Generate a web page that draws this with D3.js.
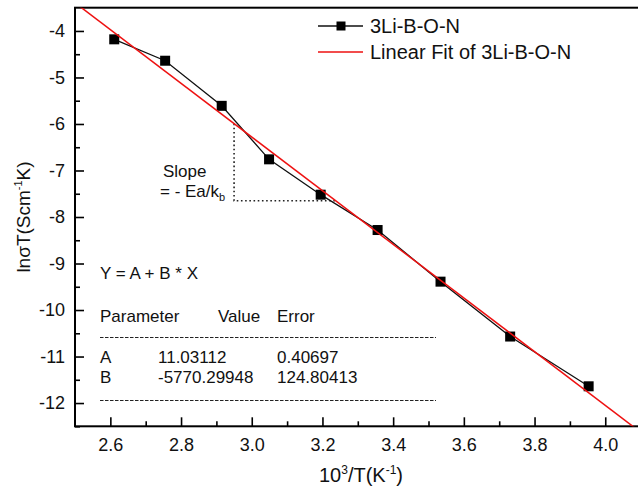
<!DOCTYPE html>
<html>
<head>
<meta charset="utf-8">
<script src="https://cdn.jsdelivr.net/npm/d3@7"></script>
<style>
  html, body { margin: 0; padding: 0; background: #fff; }
  svg { display: block; }
  text { font-family: Arial, "Liberation Sans", Helvetica, sans-serif; fill: #111; }
</style>
</head>
<body>
<svg id="chart" width="638" height="492"></svg>
<script>
// Arrhenius data: 10^3/T (K^-1) against ln(sigma*T)
const invT = [2.611, 2.755, 2.915, 3.049, 3.195, 3.356, 3.534, 3.731, 3.953];
const lnSigmaT = [-4.18, -4.64, -5.61, -6.76, -7.52, -8.28, -9.39, -10.57, -11.64];

// Linear fit  Y = A + B * X  (X = 1/T)
const fitA = 11.03112;
const fitB = -5770.29948;
const fitErrA = 0.40697;
const fitErrB = 124.80413;

// Axis ticks
const xTicks = [2.6, 2.8, 3.0, 3.2, 3.4, 3.6, 3.8, 4.0];
const xMinorTicks = [2.7, 2.9, 3.1, 3.3, 3.5, 3.7, 3.9];
const yTicks = [-12, -11, -10, -9, -8, -7, -6, -5, -4];
const yMinorTicks = [-12.5, -11.5, -10.5, -9.5, -8.5, -7.5, -6.5, -5.5, -4.5];

// Slope construction: vertical drop from the fit line, then across to it again
const slopeStartX = 2.95;
const slopeFloorY = -7.65;

const seriesName = "3Li-B-O-N";

const svg = d3.select("#chart");
const pLeft = 75, pRight = 640.6, pTop = 7.7, pBottom = 426.3;

const x = d3.scaleLinear().domain([2.5, 4.1]).range([pLeft, pRight]);
const y = d3.scaleLinear().domain([-12.5, -3.5]).range([pBottom, pTop]);

const fit = v => fitA + fitB * v / 1000;
const fitInv = yy => (yy - fitA) * 1000 / fitB;

svg.append("defs").append("clipPath").attr("id", "plotClip")
  .append("rect")
  .attr("x", pLeft).attr("y", pTop)
  .attr("width", pRight - pLeft).attr("height", pBottom - pTop);

// Frame
svg.append("rect")
  .attr("x", pLeft).attr("y", pTop)
  .attr("width", pRight - pLeft).attr("height", pBottom - pTop)
  .attr("fill", "none").attr("stroke", "#000").attr("stroke-width", 2);

// Axes (ticks point inward)
function styleAxis(g) {
  g.select(".domain").remove();
  g.selectAll(".tick line").attr("stroke", "#000").attr("stroke-width", 1.6);
  g.selectAll(".tick text").attr("font-size", 18).attr("fill", "#111")
    .attr("font-family", "Arial, 'Liberation Sans', sans-serif");
}

svg.append("g").attr("transform", `translate(0,${pBottom})`)
  .call(d3.axisBottom(x).tickValues(xTicks).tickFormat(d => d.toFixed(1))
    .tickSizeInner(-9).tickSizeOuter(0).tickPadding(12))
  .call(styleAxis);
svg.append("g").attr("transform", `translate(0,${pBottom})`)
  .call(d3.axisBottom(x).tickValues(xMinorTicks).tickFormat("")
    .tickSizeInner(-5).tickSizeOuter(0))
  .call(styleAxis);

svg.append("g").attr("transform", `translate(${pLeft},0)`)
  .call(d3.axisLeft(y).tickValues(yTicks).tickFormat(d => String(d))
    .tickSizeInner(-9).tickSizeOuter(0).tickPadding(10))
  .call(styleAxis);
svg.append("g").attr("transform", `translate(${pLeft},0)`)
  .call(d3.axisLeft(y).tickValues(yMinorTicks).tickFormat("")
    .tickSizeInner(-5).tickSizeOuter(0))
  .call(styleAxis);

// Axis titles
const xTitle = svg.append("text")
  .attr("x", 361).attr("y", 482)
  .attr("text-anchor", "middle").attr("font-size", 20);
xTitle.append("tspan").text("10");
xTitle.append("tspan").attr("font-size", 12).attr("dy", -8).text("3");
xTitle.append("tspan").attr("dy", 8).text("/T(K");
xTitle.append("tspan").attr("font-size", 12).attr("dy", -8).text("-1");
xTitle.append("tspan").attr("dy", 8).text(")");

const yTitle = svg.append("text")
  .attr("transform", `translate(30,${(pTop + pBottom) / 2}) rotate(-90)`)
  .attr("text-anchor", "middle").attr("font-size", 19);
yTitle.append("tspan").text("lnσT(Scm");
yTitle.append("tspan").attr("font-size", 11).attr("dy", -8).text("-1");
yTitle.append("tspan").attr("dy", 8).text("K)");

// Slope triangle (dotted)
const slopeEndX = fitInv(slopeFloorY);
svg.append("path")
  .attr("d", d3.line()([
    [x(slopeStartX), y(fit(slopeStartX))],
    [x(slopeStartX), y(slopeFloorY)],
    [x(slopeEndX), y(slopeFloorY)]
  ]))
  .attr("fill", "none").attr("stroke", "#222")
  .attr("stroke-width", 1.6).attr("stroke-dasharray", "1.6,2.6");

svg.append("text").attr("x", 163).attr("y", 177).attr("font-size", 17).text("Slope");
const slopeEq = svg.append("text").attr("x", 160).attr("y", 197).attr("font-size", 17);
slopeEq.append("tspan").text("= - Ea/k");
slopeEq.append("tspan").attr("font-size", 11).attr("dy", 4).text("b");

// Data series
const plot = svg.append("g").attr("clip-path", "url(#plotClip)");
const pts = invT.map((v, i) => [v, lnSigmaT[i]]);

plot.append("path")
  .attr("d", d3.line().x(d => x(d[0])).y(d => y(d[1]))(pts))
  .attr("fill", "none").attr("stroke", "#111").attr("stroke-width", 1.3);

const ms = 10;
plot.selectAll("rect.pt").data(pts).join("rect")
  .attr("class", "pt")
  .attr("x", d => x(d[0]) - ms / 2).attr("y", d => y(d[1]) - ms / 2)
  .attr("width", ms).attr("height", ms).attr("fill", "#000");

// Fitted line across the full x range
const [x0, x1] = x.domain();
plot.append("line")
  .attr("x1", x(x0)).attr("y1", y(fit(x0)))
  .attr("x2", x(x1)).attr("y2", y(fit(x1)))
  .attr("stroke", "#ee1111").attr("stroke-width", 1.5);

// Legend
const lg = svg.append("g");
lg.append("line").attr("x1", 318).attr("x2", 363).attr("y1", 26).attr("y2", 26)
  .attr("stroke", "#111").attr("stroke-width", 1.3);
lg.append("rect").attr("x", 341 - 4.5).attr("y", 26 - 4.5).attr("width", 9).attr("height", 9).attr("fill", "#000");
lg.append("text").attr("x", 370).attr("y", 33).attr("font-size", 20).text(seriesName);
lg.append("line").attr("x1", 318).attr("x2", 363).attr("y1", 52).attr("y2", 52)
  .attr("stroke", "#ee1111").attr("stroke-width", 1.3);
lg.append("text").attr("x", 370).attr("y", 59).attr("font-size", 20).text("Linear Fit of " + seriesName);

// Fit results table
const tb = svg.append("g");
tb.append("text").attr("x", 100).attr("y", 279).attr("font-size", 17).text("Y = A + B * X");
tb.append("text").attr("x", 100).attr("y", 322).attr("font-size", 17).text("Parameter");
tb.append("text").attr("x", 218).attr("y", 322).attr("font-size", 17).text("Value");
tb.append("text").attr("x", 277).attr("y", 322).attr("font-size", 17).text("Error");
[337.5, 400.5].forEach(yy => {
  tb.append("line").attr("x1", 100).attr("x2", 436).attr("y1", yy).attr("y2", yy)
    .attr("stroke", "#222").attr("stroke-width", 1).attr("stroke-dasharray", "3.5,1.5");
});
const rows = [["A", fitA.toFixed(5), fitErrA.toFixed(5)], ["B", fitB.toFixed(5), fitErrB.toFixed(5)]];
rows.forEach((r, i) => {
  const yy = 363 + i * 20;
  tb.append("text").attr("x", 100).attr("y", yy).attr("font-size", 17).text(r[0]);
  tb.append("text").attr("x", 158).attr("y", yy).attr("font-size", 17).text(r[1]);
  tb.append("text").attr("x", 277).attr("y", yy).attr("font-size", 17).text(r[2]);
});
</script>
</body>
</html>
